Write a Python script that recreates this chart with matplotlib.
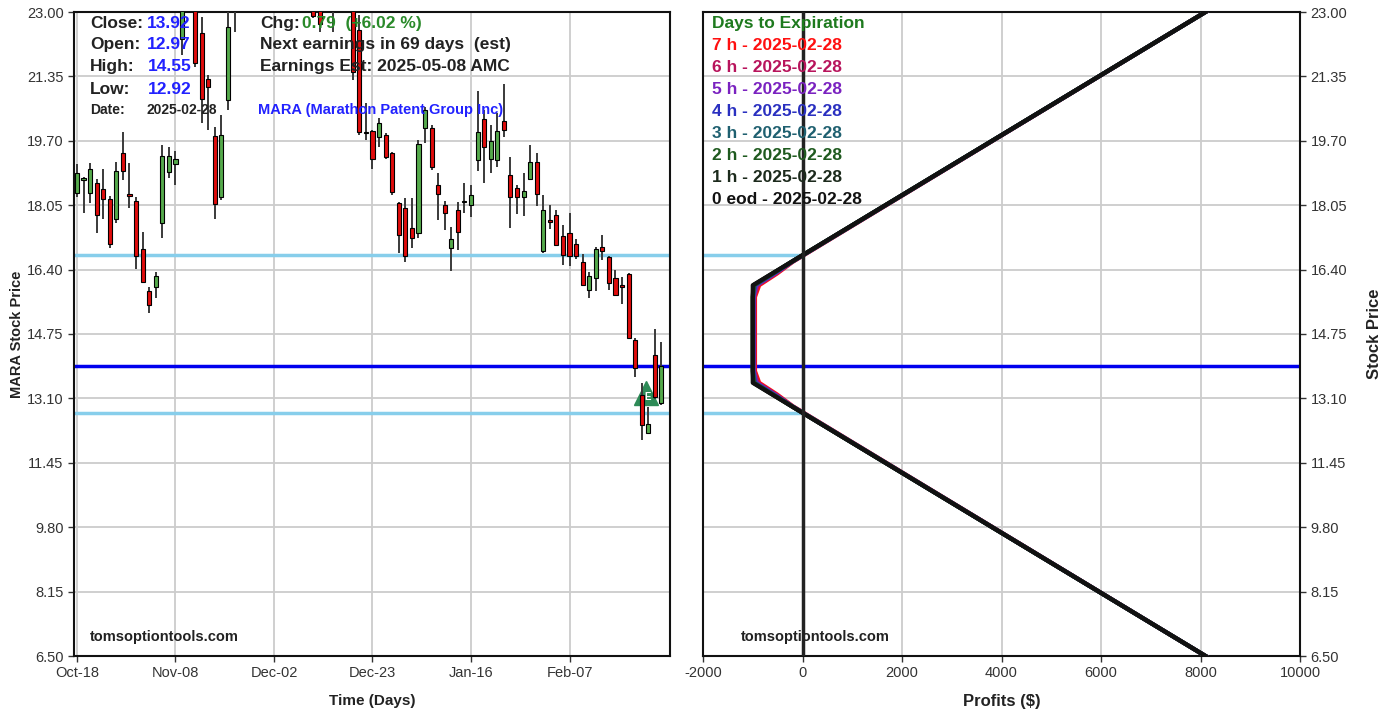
# MARA candlestick chart + long strangle profit/loss panel
import numpy as np
import matplotlib.pyplot as plt

plt.rcParams['font.family'] = ['Liberation Sans', 'DejaVu Sans']
plt.rcParams['axes.unicode_minus'] = False

# ---- price data (trading day index 0 = Oct-18) ----
opens = [18.36, 18.70, 18.36, 18.61, 18.46, 18.20, 17.69, 19.39, 18.33, 18.16,
         16.92, 15.86, 15.95, 17.60, 18.91, 19.10, 22.30, 24.50, 24.20, 22.47,
         21.28, 19.82, 18.27, 20.75, 23.40, 24.80, 25.60, 24.00, 25.00, 27.20,
         27.00, 28.30, 28.00, 29.80, 28.00, 27.20, 25.30, 24.50, 23.40, 24.60,
         23.50, 24.50, 23.90, 22.54, 19.89, 19.95, 19.81, 19.85, 19.39, 18.11,
         17.97, 17.47, 17.33, 20.02, 20.02, 18.57, 18.06, 16.95, 17.93, 18.13,
         18.06, 19.21, 20.25, 19.23, 19.21, 20.21, 18.82, 18.50, 18.25, 18.71,
         19.16, 16.88, 17.64, 17.80, 17.26, 17.33, 17.06, 16.60, 15.89, 16.18,
         16.99, 16.73, 16.18, 16.01, 16.29, 14.60, 13.19, 12.22, 14.21, 12.97]
highs = [19.10, 18.78, 19.14, 18.71, 18.99, 18.29, 19.16, 19.93, 19.14, 18.27,
         17.37, 15.96, 16.35, 19.58, 19.55, 19.45, 24.60, 25.60, 24.50, 22.88,
         21.39, 20.06, 20.36, 23.20, 24.90, 26.00, 26.50, 25.00, 27.40, 28.00,
         28.50, 29.50, 30.30, 30.50, 28.80, 28.20, 25.90, 25.20, 24.60, 25.00,
         24.90, 25.40, 24.30, 22.92, 20.66, 19.97, 20.28, 19.89, 19.42, 18.14,
         18.23, 18.23, 19.72, 20.57, 20.10, 18.87, 18.16, 17.48, 18.14, 18.61,
         18.57, 20.98, 20.49, 20.10, 20.40, 21.16, 19.29, 18.57, 18.87, 19.59,
         19.39, 18.31, 18.06, 17.93, 17.54, 17.86, 17.18, 16.80, 16.35, 16.97,
         17.29, 16.75, 16.39, 16.22, 16.32, 14.64, 13.49, 12.87, 14.87, 14.55]
lows = [18.27, 17.84, 18.10, 17.33, 17.69, 16.95, 17.60, 18.70, 17.97, 16.41,
        16.05, 15.28, 15.66, 17.20, 18.74, 18.57, 21.90, 23.40, 21.60, 20.16,
        19.98, 17.69, 18.18, 20.49, 22.50, 24.00, 23.80, 23.30, 24.80, 26.00,
        26.50, 27.20, 27.50, 27.60, 26.40, 25.00, 22.85, 22.50, 23.10, 22.50,
        23.20, 23.30, 21.25, 19.85, 19.72, 18.99, 19.55, 19.23, 18.31, 16.82,
        16.60, 16.95, 17.20, 19.64, 18.95, 17.67, 17.41, 16.37, 16.90, 17.84,
        17.76, 18.93, 18.63, 18.88, 19.02, 19.79, 17.46, 17.82, 17.77, 18.70,
        18.03, 16.83, 17.43, 17.00, 16.52, 16.49, 16.66, 16.00, 15.66, 15.86,
        16.65, 15.89, 15.72, 15.52, 14.61, 13.64, 12.03, 12.19, 13.08, 12.92]
closes = [18.87, 18.72, 18.97, 17.80, 18.22, 17.05, 18.93, 18.93, 18.29, 16.75,
          16.09, 15.49, 16.24, 19.31, 19.31, 19.23, 24.10, 24.90, 21.69, 20.76,
          21.07, 18.08, 19.85, 22.62, 24.60, 25.50, 24.20, 24.60, 27.00, 26.60,
          28.00, 27.80, 29.60, 28.10, 27.00, 25.40, 22.90, 22.70, 24.20, 23.20,
          24.40, 23.80, 21.45, 19.93, 19.93, 19.23, 20.15, 19.28, 18.40, 17.29,
          16.75, 17.20, 19.62, 20.49, 19.04, 18.34, 17.84, 17.18, 17.36, 18.15,
          18.31, 19.93, 19.53, 19.70, 19.96, 19.98, 18.25, 18.25, 18.42, 19.16,
          18.34, 17.93, 17.62, 17.03, 16.77, 16.75, 16.75, 16.01, 16.24, 16.92,
          16.88, 16.06, 15.75, 15.95, 14.64, 13.87, 12.42, 12.44, 13.13, 13.92]

date_tick_idx = [0, 15, 30, 45, 60, 75]
date_tick_lbl = ['Oct-18', 'Nov-08', 'Dec-02', 'Dec-23', 'Jan-16', 'Feb-07']
price_ticks = [6.50, 8.15, 9.80, 11.45, 13.10, 14.75, 16.40, 18.05, 19.70, 21.35, 23.00]

last_price = 13.92
breakevens = [16.77, 12.73]
earn_day = 86.6
earn_price = 13.25

# ---- profit curves (price points -> profit $) ----
pl_prices = [6.5, 12.9, 13.2, 13.5, 13.8, 15.7, 16.0, 16.3, 16.6, 23.0]
pl_labels = ['7 h - 2025-02-28', '6 h - 2025-02-28', '5 h - 2025-02-28', '4 h - 2025-02-28',
             '3 h - 2025-02-28', '2 h - 2025-02-28', '1 h - 2025-02-28', '0 eod - 2025-02-28']
pl_colors = ['#ff1010', '#b8145c', '#7a22c0', '#2a30c0', '#1f6070', '#1f5a1f', '#1c2a1c', '#111111']
pl_profits = [
    [8100, -195, -510, -870, -955, -955, -870, -510, -195, 8100],
    [8100, -203, -535, -905, -972, -972, -905, -535, -203, 8100],
    [8100, -208, -555, -930, -983, -983, -930, -555, -208, 8100],
    [8100, -212, -572, -950, -990, -990, -950, -572, -212, 8100],
    [8100, -215, -588, -965, -995, -995, -965, -588, -215, 8100],
    [8100, -218, -600, -980, -1000, -1000, -980, -600, -218, 8100],
    [8100, -219, -605, -990, -1000, -1000, -990, -605, -219, 8100],
    [8100, -220, -610, -1000, -1000, -1000, -1000, -610, -220, 8100],
]

fig = plt.figure(figsize=(13.86, 7.22), dpi=100)
ax = fig.add_axes([74/1386, 66/722, 596/1386, 644/722])
ax2 = fig.add_axes([703/1386, 66/722, 597/1386, 644/722])

tick_col = '#333333'
grid_col = '#cccccc'

# ---- left: candlesticks ----
days = np.arange(len(closes))
for a in (ax, ax2):
    a.set_ylim(6.5, 23.0)
    a.set_yticks(price_ticks)
    a.set_yticklabels(['%.2f' % t for t in price_ticks])
    a.grid(True, color=grid_col, lw=1.3, zorder=0)
    a.tick_params(colors=tick_col, labelsize=10.5, length=4, width=1)
    for s in a.spines.values():
        s.set_linewidth(1.5)
        s.set_color('#111111')
    a.set_axisbelow(True)

ax.set_xlim(-0.45, 90.3)
ax.set_xticks(date_tick_idx)
ax.set_xticklabels(date_tick_lbl)

for y in breakevens:
    ax.axhline(y, color='#87ceeb', lw=2.5, zorder=1)
ax.axhline(last_price, color='#0000ee', lw=2.5, zorder=1)

ax.plot(earn_day, earn_price, marker='^', ms=17, color='#2e8b57', zorder=2, clip_on=True)
ax.text(earn_day + 0.3, earn_price - 0.12, 'E', color='white', fontsize=7, fontweight='bold',
        ha='center', va='center', zorder=2)

for i in days:
    o, h, l, c = opens[i], highs[i], lows[i], closes[i]
    col = '#55aa4c' if c >= o else '#e00c0c'
    ax.vlines(i, l, h, color='#3a3a3a', lw=1.4, zorder=3)
    ax.bar(i, max(abs(c - o), 0.04), bottom=min(o, c), width=0.62, color=col,
           edgecolor='black', lw=0.8, zorder=4)

ax.set_xlabel('Time (Days)', fontsize=11, fontweight='bold', color='#222222', labelpad=10)
ax.set_ylabel('MARA Stock Price', fontsize=10.5, fontweight='bold', color='#222222', labelpad=2)

# header text
dark = '#222222'
blue = '#2222ff'
rows = [0.9829, 0.9488, 0.9146, 0.8804]
ax.text(0.027, rows[0], 'Close:', transform=ax.transAxes, fontsize=12.5, fontweight='bold', color=dark, va='center', zorder=6)
ax.text(0.027, rows[1], 'Open:', transform=ax.transAxes, fontsize=12.5, fontweight='bold', color=dark, va='center', zorder=6)
ax.text(0.027, rows[2], 'High:', transform=ax.transAxes, fontsize=12.5, fontweight='bold', color=dark, va='center', zorder=6)
ax.text(0.027, rows[3], 'Low:', transform=ax.transAxes, fontsize=12.5, fontweight='bold', color=dark, va='center', zorder=6)
ax.text(0.122, rows[0], '%.2f' % closes[-1], transform=ax.transAxes, fontsize=12.5, fontweight='bold', color=blue, va='center', zorder=6)
ax.text(0.122, rows[1], '%.2f' % opens[-1], transform=ax.transAxes, fontsize=12.5, fontweight='bold', color=blue, va='center', zorder=6)
ax.text(0.124, rows[2], '%.2f' % highs[-1], transform=ax.transAxes, fontsize=12.5, fontweight='bold', color=blue, va='center', zorder=6)
ax.text(0.124, rows[3], '%.2f' % lows[-1], transform=ax.transAxes, fontsize=12.5, fontweight='bold', color=blue, va='center', zorder=6)
ax.text(0.027, 0.8478, 'Date:', transform=ax.transAxes, fontsize=10, fontweight='bold', color=dark, va='center', zorder=6)
ax.text(0.121, 0.8478, '2025-02-28', transform=ax.transAxes, fontsize=10, fontweight='bold', color=dark, va='center', zorder=6)
ax.text(0.312, rows[0], 'Chg:', transform=ax.transAxes, fontsize=12.5, fontweight='bold', color=dark, va='center', zorder=6)
ax.text(0.382, rows[0], '0.79  (+6.02 %)', transform=ax.transAxes, fontsize=12.5, fontweight='bold', color='#2a8a2a', va='center', zorder=6)
ax.text(0.312, rows[1], 'Next earnings in 69 days  (est)', transform=ax.transAxes, fontsize=12.5, fontweight='bold', color=dark, va='center', zorder=6)
ax.text(0.312, rows[2], 'Earnings Est: 2025-05-08 AMC', transform=ax.transAxes, fontsize=12.5, fontweight='bold', color=dark, va='center', zorder=6)
ax.text(0.309, 0.8478, 'MARA (Marathon Patent Group Inc)', transform=ax.transAxes, fontsize=10.5, fontweight='bold', color=blue, va='center', zorder=6)
ax.text(0.027, 0.0295, 'tomsoptiontools.com', transform=ax.transAxes, fontsize=10.5, fontweight='bold', color=dark, va='center', zorder=6)

# ---- right: profit panel ----
ax2.set_xlim(-2000, 10000)
ax2.set_xticks(np.arange(-2000, 10001, 2000))
ax2.yaxis.tick_right()
ax2.yaxis.set_label_position('right')
ax2.tick_params(axis='y', left=False)
for y in breakevens:
    ax2.hlines(y, -2000, 0, color='#87ceeb', lw=2.5, zorder=1)
ax2.axhline(last_price, color='#0000ee', lw=2.5, zorder=1)
for prof, colr in zip(pl_profits, pl_colors):
    ax2.plot(prof, pl_prices, color=colr, lw=3, zorder=3)
ax2.axvline(0, color='#222222', lw=2.5, zorder=4)

ax2.set_xlabel('Profits ($)', fontsize=12, fontweight='bold', color='#222222', labelpad=10)
ax2.set_ylabel('Stock Price', fontsize=12, fontweight='bold', color='#222222', labelpad=14)

ax2.text(0.015, 0.9829, 'Days to Expiration', transform=ax2.transAxes, fontsize=12.5, fontweight='bold',
         color='#1e7a1e', va='center', zorder=6)
for k, (lbl, colr) in enumerate(zip(pl_labels, pl_colors)):
    ax2.text(0.015, 0.9829 - (k + 1) * 22 / 644, lbl, transform=ax2.transAxes, fontsize=12.5,
             fontweight='bold', color=colr, va='center', zorder=6)
ax2.text(0.064, 0.0295, 'tomsoptiontools.com', transform=ax2.transAxes, fontsize=10.5, fontweight='bold',
         color=dark, va='center', zorder=6)

plt.savefig('out.png', dpi=100)
